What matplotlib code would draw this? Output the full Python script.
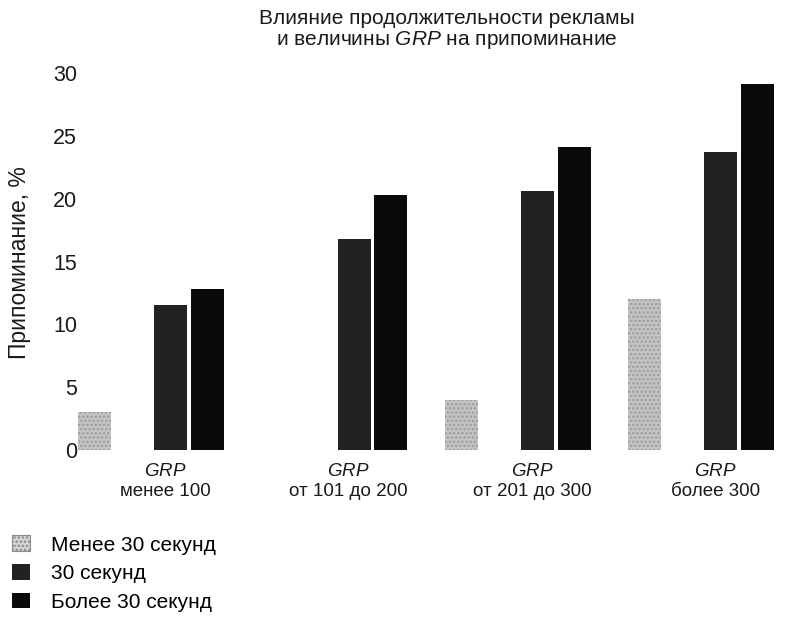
import numpy as np
import matplotlib
matplotlib.use("Agg")
import matplotlib.pyplot as plt
import matplotlib.patches as mpatches

plt.rcParams['font.family'] = ['Liberation Sans', 'DejaVu Sans']
plt.rcParams['mathtext.fontset'] = 'custom'
plt.rcParams['mathtext.it'] = 'Liberation Sans:italic'
plt.rcParams['mathtext.rm'] = 'Liberation Sans'
plt.rcParams['hatch.linewidth'] = 1.2

# data
groups = ["$\\mathit{GRP}$\nменее 100", "$\\mathit{GRP}$\nот 101 до 200",
          "$\\mathit{GRP}$\nот 201 до 300", "$\\mathit{GRP}$\nболее 300"]
series = ["Менее 30 секунд", "30 секунд", "Более 30 секунд"]
less_30 = [3.0, 0.0, 4.0, 12.0]
sec_30 = [11.5, 16.8, 20.6, 23.7]
more_30 = [12.8, 20.3, 24.1, 29.1]
yticks = [0, 5, 10, 15, 20, 25, 30]

fig = plt.figure(figsize=(7.98, 6.19), dpi=100)
ax = fig.add_axes([80 / 798, 1 - 450 / 619, 718 / 798, 377 / 619])

x = np.arange(len(groups))
w = 0.18
ax.bar(x - 0.385, less_30, w, color='#c4c4c4', edgecolor='#9c9c9c',
       hatch='....', linewidth=0, clip_on=False)
ax.bar(x + 0.03, sec_30, w, color='#222222', linewidth=0)
ax.bar(x + 0.23, more_30, w, color='#0a0a0a', linewidth=0)

ax.set_xlim(-0.464, 3.45)
ax.set_ylim(0, 30)
ax.set_yticks(yticks)
ax.set_yticklabels([str(t) for t in yticks])
ax.set_xticks(x)
ax.set_xticklabels(groups, linespacing=1.3, fontsize=13.5)
ax.tick_params(length=0, colors='#1a1a1a')
ax.tick_params(axis='y', pad=2, labelsize=15.5)
ax.tick_params(axis='x', pad=9)
for s in ax.spines.values():
    s.set_visible(False)

fig.text(20 / 798, 1 - 263 / 619, "Припоминание, %", rotation=90,
         ha='center', va='center', fontsize=16.5, color='#1a1a1a')

fig.text(447 / 798, 1 - 30 / 619,
         "Влияние продолжительности рекламы\nи величины $\\mathit{GRP}$ на припоминание",
         ha='center', va='center', fontsize=15, linespacing=1.1, color='#1a1a1a')

handles = [mpatches.Patch(facecolor='#d6d6d6', edgecolor='#8a8a8a', hatch='....', linewidth=0.8),
           mpatches.Patch(facecolor='#222222', linewidth=0),
           mpatches.Patch(facecolor='#0a0a0a', linewidth=0)]
fig.legend(handles, series, loc='upper left', bbox_to_anchor=(0.005, 1 - 527 / 619),
           frameon=False, fontsize=15, handlelength=0.85, handleheight=0.8,
           handletextpad=1.0, labelspacing=0.45, borderaxespad=0.0)

fig.savefig("out.png", dpi=100)
